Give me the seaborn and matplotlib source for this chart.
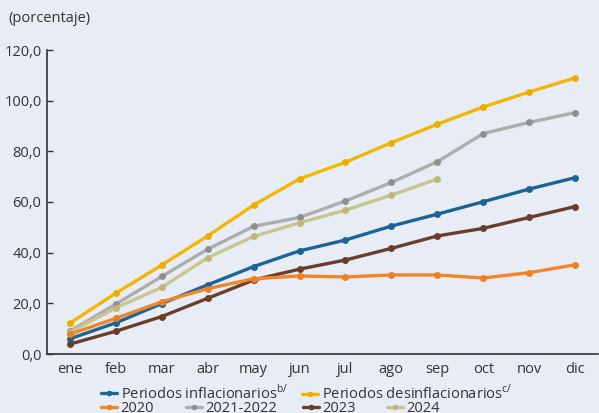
import numpy as np
import pandas as pd
import matplotlib
matplotlib.use("Agg")
import matplotlib.pyplot as plt
import seaborn as sns
from matplotlib.lines import Line2D

months = ["ene", "feb", "mar", "abr", "may", "jun", "jul", "ago", "sep", "oct", "nov", "dic"]

inflacionarios = [6.0, 12.3, 19.9, 27.3, 34.5, 40.7, 45.0, 50.5, 55.2, 60.1, 65.1, 69.6]
desinflacionarios = [12.2, 24.0, 35.1, 46.6, 58.8, 69.1, 75.7, 83.4, 90.7, 97.5, 103.4, 109.0]
y2020 = [7.8, 14.1, 20.6, 25.8, 29.7, 30.8, 30.4, 31.2, 31.2, 30.0, 32.1, 35.2]
y2021_2022 = [9.0, 19.7, 30.6, 41.4, 50.4, 53.9, 60.4, 67.7, 75.9, 87.0, 91.4, 95.3]
y2023 = [3.9, 9.0, 14.8, 22.0, 29.2, 33.5, 37.1, 41.7, 46.6, 49.6, 53.9, 58.2]
y2024 = [8.6, 18.2, 26.3, 38.0, 46.4, 51.8, 56.8, 62.7, 69.1]

series_names = ["Periodos inflacionarios$^{\\mathrm{b/}}$", "Periodos desinflacionarios$^{\\mathrm{c/}}$",
                "2020", "2021-2022", "2023", "2024"]
series_vals = [inflacionarios, desinflacionarios, y2020, y2021_2022, y2023, y2024]
colors = ["#1C6496", "#F2B705", "#F0872A", "#ADADAD", "#6A3D2C", "#C9C58E"]
marker_colors = ["#1C6496", "#EBAE00", "#EE7F20", "#8F8F8F", "#6A3D2C", "#BDB77A"]

rows = []
for name, vals in zip(series_names, series_vals):
    for i, v in enumerate(vals):
        rows.append({"serie": name, "x": i, "valor": v})
df = pd.DataFrame(rows)

sns.set_theme(style="white")
plt.rcParams["font.family"] = ["Open Sans", "DejaVu Sans"]
plt.rcParams["mathtext.fontset"] = "custom"
plt.rcParams["mathtext.rm"] = "Open Sans"
bg = "#E8ECF5"
fs = 10.5
fig = plt.figure(figsize=(5.99, 4.13), dpi=100, facecolor=bg)
ax = fig.add_axes([47/599, 1-354/413, 551/599, (354-50)/413])
ax.set_facecolor(bg)

for idx in [1, 3, 5, 0, 4, 2]:
    sub = df[df["serie"] == series_names[idx]]
    sns.lineplot(data=sub, x="x", y="valor", ax=ax, color=colors[idx], lw=2.4,
                 marker="o", markersize=5, markerfacecolor=marker_colors[idx],
                 markeredgewidth=0, legend=False)

ax.set_xlim(-0.5, 11.5)
ax.set_ylim(0, 120)
ax.set_xticks(range(12))
ax.set_xticklabels(months)
ax.set_xticks(np.arange(-0.5, 12, 1), minor=True)
ax.tick_params(axis="x", which="major", length=0, pad=6, labelsize=fs, labelcolor="#333333")
ax.tick_params(axis="x", which="minor", direction="in", length=4, color="#333333", width=1)
ax.set_yticks(np.arange(0, 121, 20))
ax.set_yticklabels([f"{v:.1f}".replace(".", ",") for v in np.arange(0, 121, 20)])
ax.tick_params(axis="y", direction="in", length=4, color="#333333", width=1, labelsize=fs,
               labelcolor="#333333", pad=4, left=True)
ax.set_xlabel("")
ax.set_ylabel("")
for s in ["top", "right"]:
    ax.spines[s].set_visible(False)
for s in ["left", "bottom"]:
    ax.spines[s].set_color("#333333")
    ax.spines[s].set_linewidth(1.2)

fig.text(8/599, 1-19/413, "(porcentaje)", fontsize=fs, color="#333333", va="center", ha="left")

def handle(i):
    return Line2D([0], [0], color=colors[i], lw=2.4, marker="o", markersize=4,
                  markerfacecolor=marker_colors[i], markeredgewidth=0)

# legend entries: (series index, handle left x px, row center y px)
entries = [(0, 101, 393), (1, 302, 393), (2, 101, 409), (3, 186, 409), (4, 303, 409), (5, 387, 409)]
for i, xp, yp in entries:
    fig.legend([handle(i)], [series_names[i]], loc="center left",
               bbox_to_anchor=(xp/599, 1-yp/413), frameon=False, fontsize=fs,
               handlelength=1.1, handletextpad=0.25, borderpad=0, borderaxespad=0,
               labelcolor="#333333")

fig.savefig("out.png", dpi=100, facecolor=bg)
